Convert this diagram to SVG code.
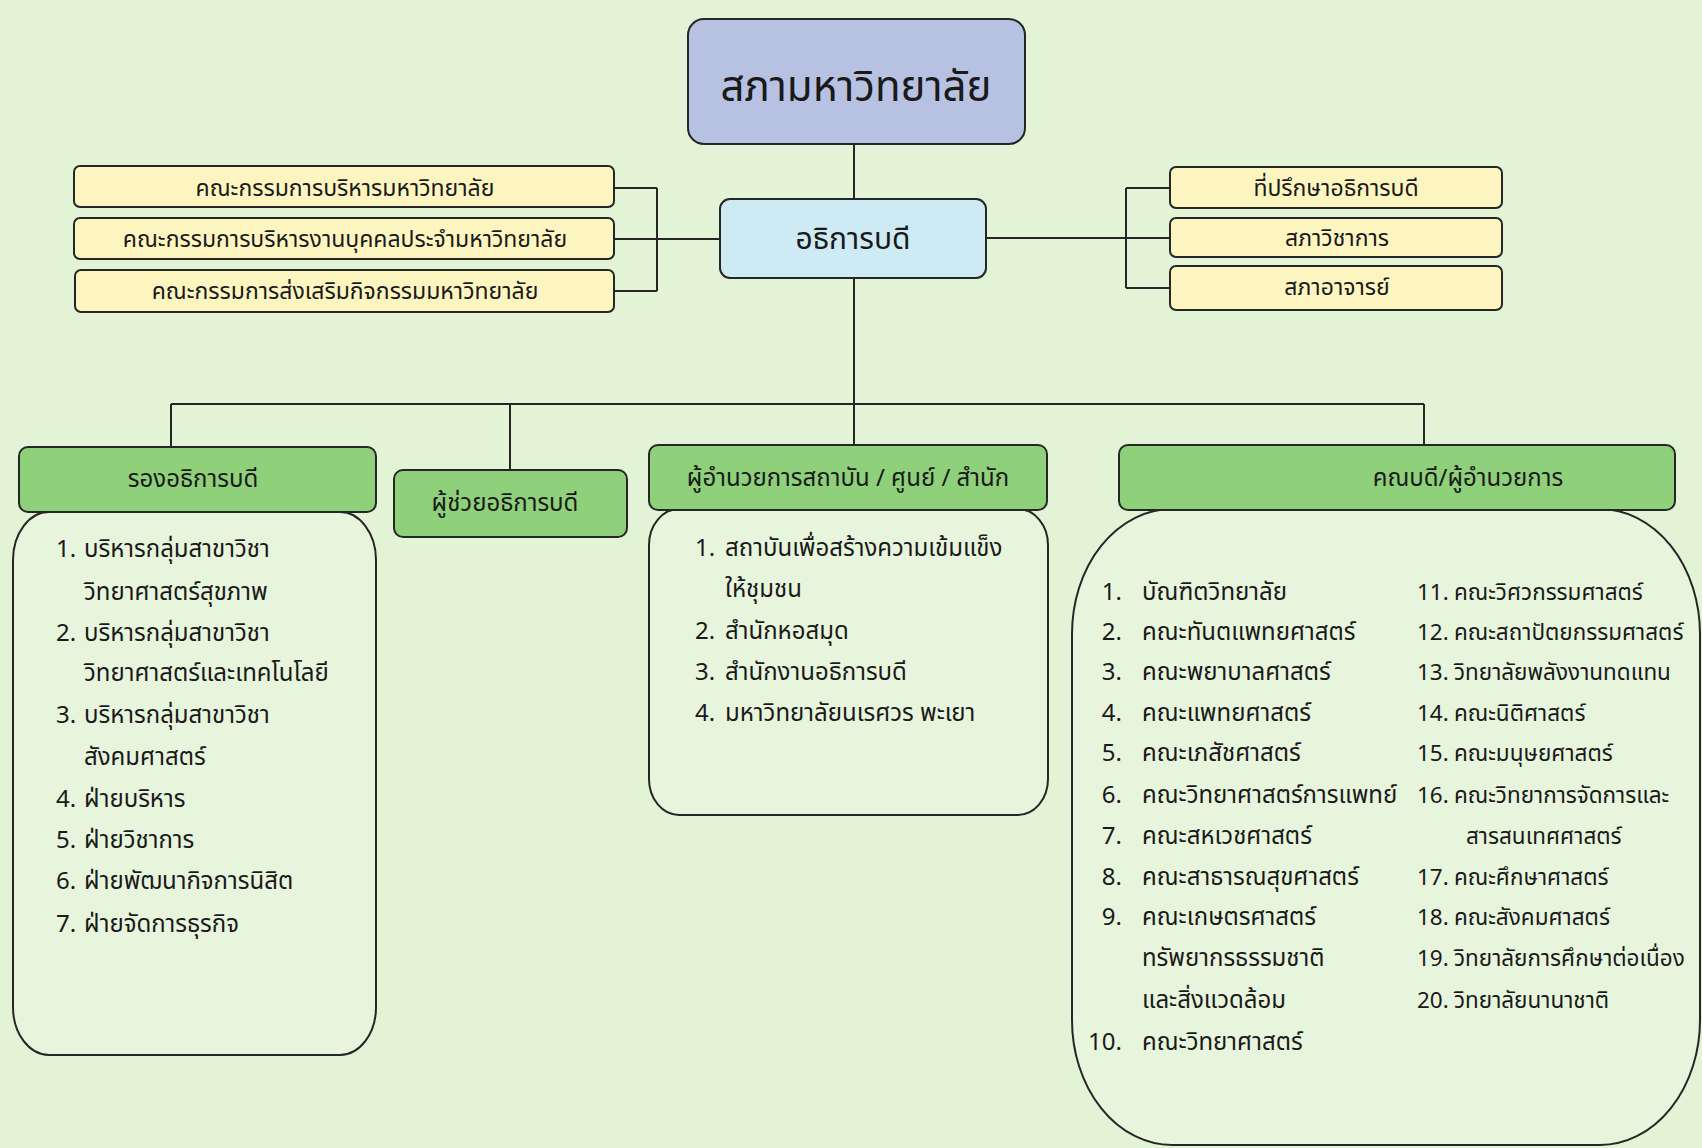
<svg xmlns="http://www.w3.org/2000/svg" width="1702" height="1148" viewBox="0 0 1702 1148">
<style>
text{font-family:"Noto Sans Thai","Noto Sans Thai UI","Loma","Garuda","Noto Sans","DejaVu Sans",sans-serif;fill:#1a1a1a}
.box{stroke:#262626;stroke-width:2}
.yel{fill:#fdf5c0}
.grn{fill:#8fd07a}
.cnt{fill:#e7f5dc}
.c{text-anchor:middle}
.e{text-anchor:end}
.l{font-size:24px}
.r{font-size:22.5px}
.h{font-size:24px}
.y{font-size:23px}
.ln{stroke:#262626;stroke-width:2;fill:none}
</style>
<rect width="1702" height="1148" fill="#e3f3d6"/>
<g id="connectors">
<path class="ln" d="M854 144V199M854 278V447M171 404H1424M171 404V448M510 404V470M1424 404V445"/>
<path class="ln" d="M614 188H657M614 239H720M614 291H657M657 188V291"/>
<path class="ln" d="M986 238H1170M1126 188H1170M1126 288H1170M1126 188V288"/>
</g>
<g id="council">
<rect class="box" x="688" y="19" width="337" height="125" rx="16" fill="#b7c1e2"/>
<text class="c" x="856" y="101" font-size="42">สภามหาวิทยาลัย</text>
</g>
<g id="president">
<rect class="box" x="720" y="199" width="266" height="79" rx="10" fill="#cdeaf5"/>
<text class="c" x="853" y="249" font-size="30">อธิการบดี</text>
</g>
<g id="left-committees">
<rect class="box yel" x="74" y="166" width="540" height="41" rx="6"/>
<text class="c y" x="345" y="196">คณะกรรมการบริหารมหาวิทยาลัย</text>
<rect class="box yel" x="74" y="218" width="540" height="41" rx="6"/>
<text class="c y" x="345" y="247" font-size="24">คณะกรรมการบริหารงานบุคคลประจำมหาวิทยาลัย</text>
<rect class="box yel" x="75" y="270" width="539" height="42" rx="6"/>
<text class="c y" x="345" y="299">คณะกรรมการส่งเสริมกิจกรรมมหาวิทยาลัย</text>
</g>
<g id="right-committees">
<rect class="box yel" x="1170" y="167" width="332" height="41" rx="6"/>
<text class="c y" x="1336" y="196">ที่ปรึกษาอธิการบดี</text>
<rect class="box yel" x="1170" y="218" width="332" height="39" rx="6"/>
<text class="c y" x="1337" y="246">สภาวิชาการ</text>
<rect class="box yel" x="1170" y="266" width="332" height="44" rx="6"/>
<text class="c y" x="1337" y="295">สภาอาจารย์</text>
</g>
<g id="vice-presidents">
<rect class="box cnt" x="13" y="512" width="363" height="543" rx="36" ry="48"/>
<rect class="box grn" x="19" y="447" width="357" height="65" rx="9"/>
<text class="c h" x="193" y="487">รองอธิการบดี</text>
<text class="l" x="56" y="557">1.</text><text class="l" x="84" y="557">บริหารกลุ่มสาขาวิชา</text>
<text class="l" x="84" y="600">วิทยาศาสตร์สุขภาพ</text>
<text class="l" x="56" y="641">2.</text><text class="l" x="84" y="641">บริหารกลุ่มสาขาวิชา</text>
<text class="l" x="84" y="681">วิทยาศาสตร์และเทคโนโลยี</text>
<text class="l" x="56" y="723">3.</text><text class="l" x="84" y="723">บริหารกลุ่มสาขาวิชา</text>
<text class="l" x="84" y="765">สังคมศาสตร์</text>
<text class="l" x="56" y="807">4.</text><text class="l" x="84" y="807">ฝ่ายบริหาร</text>
<text class="l" x="56" y="848">5.</text><text class="l" x="84" y="848">ฝ่ายวิชาการ</text>
<text class="l" x="56" y="889">6.</text><text class="l" x="84" y="889">ฝ่ายพัฒนากิจการนิสิต</text>
<text class="l" x="56" y="932">7.</text><text class="l" x="84" y="932">ฝ่ายจัดการธุรกิจ</text>
</g>
<g id="assistant-presidents">
<rect class="box grn" x="394" y="470" width="233" height="67" rx="9"/>
<text class="c h" x="505" y="511">ผู้ช่วยอธิการบดี</text>
</g>
<g id="directors">
<rect class="box cnt" x="649" y="509" width="399" height="306" rx="30" ry="36"/>
<rect class="box grn" x="649" y="445" width="398" height="65" rx="9"/>
<text class="c h" x="848" y="486">ผู้อำนวยการสถาบัน / ศูนย์ / สำนัก</text>
<text class="l" x="695" y="556">1.</text><text class="l" x="725" y="556">สถาบันเพื่อสร้างความเข้มแข็ง</text>
<text class="l" x="725" y="597">ให้ชุมชน</text>
<text class="l" x="695" y="639">2.</text><text class="l" x="725" y="639">สำนักหอสมุด</text>
<text class="l" x="695" y="680">3.</text><text class="l" x="725" y="680">สำนักงานอธิการบดี</text>
<text class="l" x="695" y="721">4.</text><text class="l" x="725" y="721">มหาวิทยาลัยนเรศวร พะเยา</text>
</g>
<g id="deans">
<rect class="box cnt" x="1072" y="509" width="628" height="636" rx="100" ry="125"/>
<rect class="box grn" x="1119" y="445" width="556" height="65" rx="9"/>
<text class="c h" x="1468" y="486">คณบดี/ผู้อำนวยการ</text>
<text class="l e" x="1122" y="600">1.</text><text class="l" x="1142" y="600">บัณฑิตวิทยาลัย</text>
<text class="l e" x="1122" y="640">2.</text><text class="l" x="1142" y="640">คณะทันตแพทยศาสตร์</text>
<text class="l e" x="1122" y="680">3.</text><text class="l" x="1142" y="680">คณะพยาบาลศาสตร์</text>
<text class="l e" x="1122" y="721">4.</text><text class="l" x="1142" y="721">คณะแพทยศาสตร์</text>
<text class="l e" x="1122" y="761">5.</text><text class="l" x="1142" y="761">คณะเภสัชศาสตร์</text>
<text class="l e" x="1122" y="803">6.</text><text class="l" x="1142" y="803">คณะวิทยาศาสตร์การแพทย์</text>
<text class="l e" x="1122" y="844">7.</text><text class="l" x="1142" y="844">คณะสหเวชศาสตร์</text>
<text class="l e" x="1122" y="885">8.</text><text class="l" x="1142" y="885">คณะสาธารณสุขศาสตร์</text>
<text class="l e" x="1122" y="925">9.</text><text class="l" x="1142" y="925">คณะเกษตรศาสตร์</text>
<text class="l" x="1142" y="966">ทรัพยากรธรรมชาติ</text>
<text class="l" x="1142" y="1008">และสิ่งแวดล้อม</text>
<text class="l e" x="1122" y="1050">10.</text><text class="l" x="1142" y="1050">คณะวิทยาศาสตร์</text>
<text class="r" x="1417" y="600">11.</text><text class="r" x="1454" y="600">คณะวิศวกรรมศาสตร์</text>
<text class="r" x="1417" y="640">12.</text><text class="r" x="1454" y="640">คณะสถาปัตยกรรมศาสตร์</text>
<text class="r" x="1417" y="680">13.</text><text class="r" x="1454" y="680">วิทยาลัยพลังงานทดแทน</text>
<text class="r" x="1417" y="721">14.</text><text class="r" x="1454" y="721">คณะนิติศาสตร์</text>
<text class="r" x="1417" y="761">15.</text><text class="r" x="1454" y="761">คณะมนุษยศาสตร์</text>
<text class="r" x="1417" y="803">16.</text><text class="r" x="1454" y="803">คณะวิทยาการจัดการและ</text>
<text class="r" x="1466" y="844">สารสนเทศศาสตร์</text>
<text class="r" x="1417" y="885">17.</text><text class="r" x="1454" y="885">คณะศึกษาศาสตร์</text>
<text class="r" x="1417" y="925">18.</text><text class="r" x="1454" y="925">คณะสังคมศาสตร์</text>
<text class="r" x="1417" y="966">19.</text><text class="r" x="1454" y="966">วิทยาลัยการศึกษาต่อเนื่อง</text>
<text class="r" x="1417" y="1008">20.</text><text class="r" x="1454" y="1008">วิทยาลัยนานาชาติ</text>
</g>
</svg>
